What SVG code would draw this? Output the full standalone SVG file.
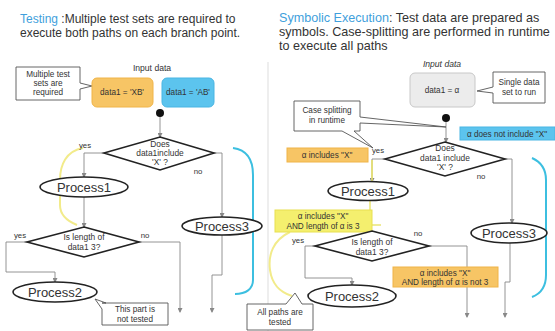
<svg xmlns="http://www.w3.org/2000/svg" width="555" height="331" viewBox="0 0 555 331">
<style>
text{font-family:"Liberation Sans",Arial,sans-serif;fill:#333}
.t{font-size:12px}
.tr{font-size:12.6px}
.tb{fill:#3f9fdc}
.s{font-size:8.2px;text-anchor:middle}
.d{font-size:8.4px;text-anchor:middle}
.p{font-size:13px;text-anchor:middle}
.yn{font-size:7.8px;text-anchor:middle}
.ln{fill:none;stroke:#888;stroke-width:0.9}
.sh{fill:#fff;stroke:#222;stroke-width:1.6}
.cl{fill:#fff;stroke:#555;stroke-width:0.9}
.or{fill:#f7c565;stroke:#f0b448;stroke-width:1}
.bl{fill:#5cc4ee;stroke:#49b5e3;stroke-width:1}
.ye{fill:#f4ef6e;stroke:#e8e050;stroke-width:1}
.cy{fill:none;stroke:#3cbfe0;stroke-width:2}
.yc{fill:none;stroke:#f2eb8a;stroke-width:2}
</style>
<defs>
<marker id="a" markerWidth="5" markerHeight="5" refX="4" refY="2.5" orient="auto" markerUnits="userSpaceOnUse">
<path d="M0,0 L5,2.5 L0,5 z" fill="#888"/>
</marker>
</defs>
<rect width="555" height="331" fill="#fff"/>
<line x1="268" y1="62" x2="268" y2="331" stroke="#ddd" stroke-width="1"/>

<g id="title-left">
<text class="t" x="20" y="23"><tspan class="tb">Testing</tspan> :Multiple test sets are required to</text>
<text class="t" x="20" y="37">execute both paths on each branch point.</text>
</g>
<g id="title-right">
<text class="tr" x="279" y="22"><tspan class="tb">Symbolic Execution</tspan>: Test data are prepared as</text>
<text class="tr" x="279" y="36">symbols.  Case-splitting are performed in runtime</text>
<text class="tr" x="279" y="50">to execute all paths</text>
</g>

<g id="connectors">
<line class="ln" x1="160" y1="113" x2="160" y2="137" marker-end="url(#a)"/>
<polyline class="ln" points="104,153 84,153 84,177" marker-end="url(#a)"/>
<polyline class="ln" points="214,153 222,153 222,217" marker-end="url(#a)"/>
<line class="ln" x1="84" y1="197" x2="84" y2="227" marker-end="url(#a)"/>
<polyline class="ln" points="27,242 6,242 6,272 55,272 55,282" marker-end="url(#a)"/>
<polyline class="ln" points="139,242 180,242 180,312" marker-end="url(#a)"/>
<polyline class="ln" points="222,235 222,275 212,275 212,312" marker-end="url(#a)"/>
<path class="cy" d="M233,148 C248,150 253,160 253,175 L253,280 C253,289 246,294 235,294"/>
<path class="yc" d="M83,148 C66,151 60,165 60,180 L60,205 C60,215 67,221 77,225"/>

<line class="ln" x1="446" y1="118" x2="446" y2="142" marker-end="url(#a)"/>
<polyline class="ln" points="385,159 372,159 372,182" marker-end="url(#a)"/>
<line x1="372" y1="160" x2="372" y2="182" stroke="#e9e36a" stroke-width="1.6"/>
<polyline class="ln" points="505,159 512,159 512,223" marker-end="url(#a)"/>
<line x1="370" y1="200" x2="370" y2="231" stroke="#e9e36a" stroke-width="1.4"/>
<line x1="372" y1="225" x2="381" y2="225" stroke="#e9e36a" stroke-width="1.4"/>
<polyline class="ln" points="315,246 305,246 305,278 352,278 352,285" marker-end="url(#a)"/>
<polyline class="ln" points="429,246 467,246 467,317" marker-end="url(#a)"/>
<polyline class="ln" points="510,243 510,282 505,282 505,317" marker-end="url(#a)"/>
<path class="cy" d="M532,158 C541,162 546,170 546,180 L546,275 C546,287 540,294 532,297"/>
<path class="yc" d="M290,232 C273,240 268,255 270,270 C272,285 280,292 292,296"/>
</g>

<g id="callout-multiple">
<path class="cl" d="M16,67 H80 V83 L92,86 L80,89 V100 H16 Z"/>
<text class="s" x="48" y="77">Multiple test</text>
<text class="s" x="48" y="86">sets are</text>
<text class="s" x="48" y="95">required</text>
</g>
<g id="input-left">
<text class="s" x="152" y="71" style="font-size:8.6px">Input data</text>
</g>
<g id="data-xb">
<rect class="or" x="92" y="78" width="61" height="29" rx="5"/>
<text class="s" x="122" y="95">data1 = 'XB'</text>
</g>
<g id="data-ab">
<rect class="bl" x="162" y="78" width="52" height="29" rx="5"/>
<text class="s" x="188" y="95">data1 = 'AB'</text>
</g>
<g id="start-left"><circle cx="160" cy="113" r="4" fill="#111"/></g>
<g id="decision1-left">
<polygon class="sh" points="160,137 214,153 160,170 104,153"/>
<text class="d" x="160" y="147">Does</text>
<text class="d" x="160" y="156">data1include</text>
<text class="d" x="160" y="165">'X' ?</text>
<text class="yn" x="85" y="148">yes</text>
<text class="yn" x="198" y="174">no</text>
</g>
<g id="process1-left">
<ellipse class="sh" cx="84" cy="187" rx="44" ry="10"/>
<text class="p" x="84" y="192">Process1</text>
</g>
<g id="process3-left">
<ellipse class="sh" cx="222" cy="226" rx="40" ry="9"/>
<text class="p" x="222" y="231">Process3</text>
</g>
<g id="decision2-left">
<polygon class="sh" points="84,227 139,242 84,257 27,242"/>
<text class="d" x="84" y="240">Is length of</text>
<text class="d" x="84" y="250">data1 3?</text>
<text class="yn" x="20" y="238">yes</text>
<text class="yn" x="145" y="238">no</text>
</g>
<g id="process2-left">
<ellipse class="sh" cx="55" cy="292" rx="42" ry="10"/>
<text class="p" x="55" y="297">Process2</text>
</g>
<g id="callout-not-tested">
<path class="cl" d="M102,303 H168 V325 H102 V309 L95,299 L106,303 Z"/>
<text class="s" x="135" y="312">This part is</text>
<text class="s" x="135" y="322">not tested</text>
</g>

<g id="input-right">
<text class="s" x="442" y="67" style="font-size:8.6px;font-style:italic">Input data</text>
</g>
<g id="data-alpha">
<rect x="410" y="73" width="65" height="34" rx="5" fill="#ececec" stroke="#c8c8c8"/>
<text class="s" x="442" y="93">data1 = α</text>
</g>
<g id="callout-single">
<path class="cl" d="M493,72 H545 V103 H493 V93 L477,91 L493,87 Z"/>
<text class="s" x="519" y="85">Single data</text>
<text class="s" x="519" y="95">set to run</text>
</g>
<g id="start-right"><circle cx="446" cy="118" r="4" fill="#111"/></g>
<g id="callout-case">
<path class="cl" d="M294,101 H360 V117 L446,127 L360,123 V131 H354 L373,148 L342,131 H294 Z"/>
<text class="s" x="327" y="113">Case splitting</text>
<text class="s" x="327" y="123">in runtime</text>
</g>
<g id="label-not-include">
<rect class="bl" x="460" y="127" width="95" height="13"/>
<text class="s" x="507" y="136.5">α does not include "X"</text>
</g>
<g id="label-include">
<rect class="or" x="287" y="148" width="81" height="14"/>
<text class="s" x="327" y="158">α includes "X"</text>
</g>
<g id="decision1-right">
<polygon class="sh" points="445,142 505,159 445,176 385,159"/>
<text class="d" x="445" y="151">Does</text>
<text class="d" x="445" y="161">data1 include</text>
<text class="d" x="445" y="170">'X' ?</text>
<text class="yn" x="378" y="153">yes</text>
<text class="yn" x="481" y="179">no</text>
</g>
<g id="process1-right">
<ellipse class="sh" cx="368" cy="191" rx="40" ry="9.5"/>
<text class="p" x="368" y="196">Process1</text>
</g>
<g id="process3-right">
<ellipse class="sh" cx="509" cy="233" rx="38" ry="10"/>
<text class="p" x="509" y="238">Process3</text>
</g>
<g id="label-include-3">
<rect class="ye" x="275" y="210" width="97" height="22"/>
<text class="s" x="323" y="219">α includes "X"</text>
<text class="s" x="323" y="229">AND length of α is 3</text>
</g>
<g id="decision2-right">
<polygon class="sh" points="372,231 429,246 372,261 315,246"/>
<text class="d" x="372" y="245">Is length of</text>
<text class="d" x="372" y="255">data1 3?</text>
<text class="yn" x="298" y="243">yes</text>
<text class="yn" x="418" y="236">no</text>
</g>
<g id="label-include-not3">
<rect class="or" x="393" y="267" width="105" height="20"/>
<text class="s" x="445" y="275.5">α includes "X"</text>
<text class="s" x="445" y="285">AND length of α is not 3</text>
</g>
<g id="process2-right">
<ellipse class="sh" cx="352" cy="296" rx="44" ry="11"/>
<text class="p" x="352" y="301">Process2</text>
</g>
<g id="callout-all-tested">
<path class="cl" d="M247,304 H286 L295,293 L302,304 H313 V330 H247 Z"/>
<text class="s" x="280" y="315">All paths are</text>
<text class="s" x="280" y="325">tested</text>
</g>
</svg>
